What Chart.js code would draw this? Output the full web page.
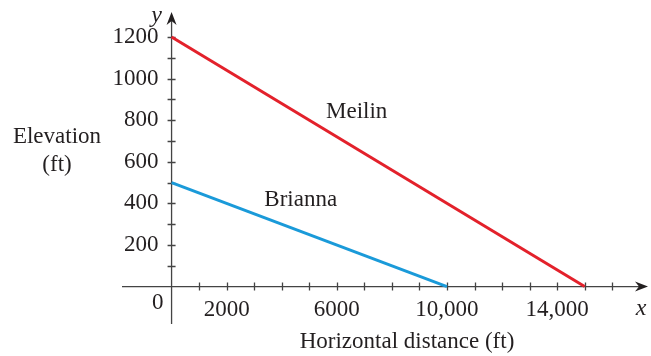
<!DOCTYPE html>
<html>
<head>
<meta charset="utf-8">
<script src="https://cdn.jsdelivr.net/npm/chart.js@4"></script>
<style>
  html, body { margin: 0; padding: 0; background: #fff; }
  #wrap { width: 651px; height: 356px; position: relative; }
</style>
</head>
<body>
<div id="wrap"><canvas id="chart"></canvas></div>
<script>
// 数据
const meilinX = [0, 15000];
const meilinY = [1200, 0];
const briannaX = [0, 10000];
const briannaY = [500, 0];

const xTickMarks = [1000, 2000, 3000, 4000, 5000, 6000, 7000, 8000, 9000, 10000, 11000, 12000, 13000, 14000, 15000, 16000];
const xTickLabelValues = [2000, 6000, 10000, 14000];
const xTickLabelTexts = ['2000', '6000', '10,000', '14,000'];
const yTickMarks = [100, 200, 300, 400, 500, 600, 700, 800, 900, 1000, 1100, 1200];
const yTickLabelValues = [200, 400, 600, 800, 1000, 1200];
const yTickLabelTexts = ['200', '400', '600', '800', '1000', '1200'];

const seriesNames = ['Meilin', 'Brianna'];
const seriesLabelX = [6720, 4690];
const seriesLabelY = [840, 418];

const INK = '#231f20';
const FONT = '23px "Liberation Serif", "DejaVu Serif", serif';

function arrow(ctx, x, y, dir) {
  // dir: 'right' | 'up'
  ctx.save();
  ctx.translate(x, y);
  if (dir === 'up') ctx.rotate(-Math.PI / 2);
  ctx.beginPath();
  ctx.moveTo(0, 0);
  ctx.lineTo(-13, -5);
  ctx.lineTo(-9, 0);
  ctx.lineTo(-13, 5);
  ctx.closePath();
  ctx.fillStyle = INK;
  ctx.fill();
  ctx.restore();
}

const axesPlugin = {
  id: 'axesPlugin',
  beforeDatasetsDraw(chart) {
    const { ctx } = chart;
    const xs = chart.scales.x, ys = chart.scales.y;
    const x0 = xs.getPixelForValue(0), y0 = ys.getPixelForValue(0);
    ctx.save();
    ctx.strokeStyle = '#444';
    ctx.lineWidth = 1.3;
    // x 轴
    ctx.beginPath();
    ctx.moveTo(xs.left, y0);
    ctx.lineTo(xs.right - 6, y0);
    // y 轴
    ctx.moveTo(x0, ys.bottom);
    ctx.lineTo(x0, ys.top + 6);
    ctx.stroke();
    // 刻度
    ctx.beginPath();
    for (const v of xTickMarks) {
      const px = Math.round(xs.getPixelForValue(v)) + 0.5;
      ctx.moveTo(px, y0 - 4);
      ctx.lineTo(px, y0 + 4);
    }
    for (const v of yTickMarks) {
      const py = Math.round(ys.getPixelForValue(v)) + 0.5;
      ctx.moveTo(x0 - 4, py);
      ctx.lineTo(x0 + 4, py);
    }
    ctx.stroke();
    arrow(ctx, xs.right, y0, 'right');
    arrow(ctx, x0, ys.top, 'up');
    ctx.restore();
  },
  afterDraw(chart) {
    const { ctx } = chart;
    const xs = chart.scales.x, ys = chart.scales.y;
    const x0 = xs.getPixelForValue(0), y0 = ys.getPixelForValue(0);
    ctx.save();
    ctx.fillStyle = INK;
    ctx.font = FONT;
    ctx.textBaseline = 'middle';
    // y 刻度标签
    ctx.textAlign = 'right';
    yTickLabelValues.forEach((v, i) => {
      ctx.fillText(yTickLabelTexts[i], x0 - 13, ys.getPixelForValue(v));
    });
    ctx.fillText('0', x0 - 8, y0 + 16);
    // x 刻度标签
    ctx.textAlign = 'center';
    xTickLabelValues.forEach((v, i) => {
      ctx.fillText(xTickLabelTexts[i], xs.getPixelForValue(v), y0 + 23);
    });
    // 轴标题
    ctx.fillText('Horizontal distance (ft)', 407, y0 + 55);
    ctx.fillText('Elevation', 57, 137);
    ctx.fillText('(ft)', 57, 165);
    // 系列名称
    seriesNames.forEach((name, i) => {
      ctx.fillText(name, xs.getPixelForValue(seriesLabelX[i]), ys.getPixelForValue(seriesLabelY[i]));
    });
    // 轴变量
    ctx.font = 'italic 24px "Liberation Serif", "DejaVu Serif", serif';
    ctx.fillText('x', xs.right - 7, y0 + 22);
    ctx.fillText('y', x0 - 15, ys.top + 4);
    ctx.restore();
  }
};

new Chart(document.getElementById('chart'), {
  type: 'scatter',
  data: {
    datasets: [
      {
        label: seriesNames[0],
        data: meilinX.map((x, i) => ({ x, y: meilinY[i] })),
        borderColor: '#e3212b',
        showLine: true,
        borderWidth: 3,
        pointRadius: 0,
      },
      {
        label: seriesNames[1],
        data: briannaX.map((x, i) => ({ x, y: briannaY[i] })),
        borderColor: '#1a9ad9',
        showLine: true,
        borderWidth: 3,
        pointRadius: 0,
      },
    ],
  },
  options: {
    responsive: true,
    maintainAspectRatio: false,
    animation: false,
    layout: { padding: { left: 122, right: 3, top: 12, bottom: 32 } },
    scales: {
      x: { type: 'linear', min: -1800, max: 17300, display: false },
      y: { type: 'linear', min: -180, max: 1320, display: false },
    },
    plugins: { legend: { display: false }, tooltip: { enabled: false } },
  },
  plugins: [axesPlugin],
});
</script>
</body>
</html>
